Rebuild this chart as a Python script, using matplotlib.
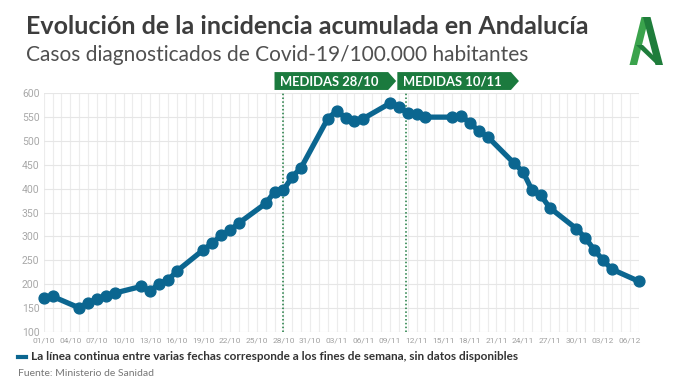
import matplotlib
matplotlib.use("Agg")
import matplotlib.pyplot as plt
import matplotlib.patches as mpatches
import matplotlib.transforms as mtransforms
import numpy as np
import pandas as pd

# data (weekdays only, weekends joined by the line)
dates = ["2020-10-01", "2020-10-02", "2020-10-05", "2020-10-06", "2020-10-07", "2020-10-08",
         "2020-10-09", "2020-10-12", "2020-10-13", "2020-10-14", "2020-10-15", "2020-10-16",
         "2020-10-19", "2020-10-20", "2020-10-21", "2020-10-22", "2020-10-23", "2020-10-26",
         "2020-10-27", "2020-10-28", "2020-10-29", "2020-10-30", "2020-11-02", "2020-11-03",
         "2020-11-04", "2020-11-05", "2020-11-06", "2020-11-09", "2020-11-10", "2020-11-11",
         "2020-11-12", "2020-11-13", "2020-11-16", "2020-11-17", "2020-11-18", "2020-11-19",
         "2020-11-20", "2020-11-23", "2020-11-24", "2020-11-25", "2020-11-26", "2020-11-27",
         "2020-11-30", "2020-12-01", "2020-12-02", "2020-12-03", "2020-12-04", "2020-12-07"]
incidencia = [171, 174, 150, 161, 168, 175, 181, 195, 185, 201, 208, 227,
              272, 286, 302, 313, 328, 369, 393, 397, 425, 444,
              547, 563, 549, 542, 547, 579, 572, 558, 556, 550,
              550, 553, 538, 521, 509, 453, 435, 397, 386, 360,
              316, 297, 272, 250, 231, 206]
medidas_labels = ["MEDIDAS 28/10", "MEDIDAS 10/11"]
medidas_lines = ["2020-10-28 00:00", "2020-11-10 20:00"]
y_ticks = list(range(100, 650, 50))

title = "Evolución de la incidencia acumulada en Andalucía"
subtitle = "Casos diagnosticados de Covid-19/100.000 habitantes"
note = "La línea continua entre varias fechas corresponde a los fines de semana, sin datos disponibles"
source = "Fuente: Ministerio de Sanidad"

BLUE = "#0b6690"
GREEN = "#1b7a3e"

start = pd.Timestamp("2020-10-01")
x = (pd.to_datetime(dates) - start) / pd.Timedelta(days=1)
x = np.asarray(x, dtype=float)
n_days = int(x.max())

W, H = 680, 382
fig = plt.figure(figsize=(W / 100, H / 100), dpi=100)
plt.rcParams["font.family"] = ["Lato", "DejaVu Sans"]


def fx(px):
    return px / W


def fy(py):
    return 1 - py / H


ax = fig.add_axes([fx(43.7), fy(331.7), fx(638.5) - fx(43.7), fy(93.3) - fy(331.7)])
ax.set_xlim(0, n_days)
ax.set_ylim(100, 600)

for d in range(n_days + 1):
    ax.axvline(d, color="#ececec", lw=0.8, zorder=0)
for v in y_ticks:
    ax.axhline(v, color="#e6e6e6", lw=0.8, zorder=0)

ax.plot(x, incidencia, color=BLUE, lw=3.8, marker="o", ms=7.8,
        solid_joinstyle="round", zorder=3, clip_on=False)

for s in ax.spines.values():
    s.set_visible(False)
ax.tick_params(length=0)
ax.set_yticks(y_ticks)
ax.set_yticklabels([str(v) for v in y_ticks], fontsize=7.5, color="#a8a8a8", family="Roboto")
tick_days = list(range(0, n_days + 1, 3))
ax.set_xticks(tick_days)
ax.set_xticklabels([(start + pd.Timedelta(days=d)).strftime("%d/%m") for d in tick_days],
                   fontsize=6, color="#a0a0a0", family="Roboto")
ax.tick_params(axis="y", pad=3)
ax.tick_params(axis="x", pad=4.5)

# measure lines and tags
trans = mtransforms.blended_transform_factory(ax.transData, ax.transAxes)
for label, when in zip(medidas_labels, medidas_lines):
    d = (pd.Timestamp(when) - start) / pd.Timedelta(days=1)
    ax.axvline(d, color=GREEN, lw=1.1, ls=(0, (1, 1.5)), zorder=2)
    left = d - 1.0
    right = d + 11.8
    tip = right + 0.9
    y0, y1 = 1.014, 1.089
    poly = mpatches.Polygon([(left, y0), (right, y0), (tip, (y0 + y1) / 2), (right, y1), (left, y1)],
                            closed=True, transform=trans, facecolor=GREEN, edgecolor="none",
                            clip_on=False, zorder=4)
    ax.add_patch(poly)
    ax.text(left + 0.6, (y0 + y1) / 2 - 0.002, label, transform=trans, color="white",
            fontsize=9.4, fontweight="bold", va="center", ha="left", zorder=5)

# titles
fig.text(fx(26), fy(27), title, fontsize=18, fontweight="bold", color="#3d3d3d", va="center")
fig.text(fx(26), fy(55), subtitle, fontsize=15, color="#505050", va="center")

# logo
light = [(629.5, 65), (637, 65), (649, 17), (641.5, 17)]
dark = [(643, 17), (650.5, 17), (663, 65), (655.5, 65)]
bar = [(636, 45), (643, 45), (660, 62), (657, 65)]
for pts, col in [(light, "#3aa34c"), (dark, "#1f7d3b"), (bar, "#1f7d3b")]:
    fig.patches.append(mpatches.Polygon([(fx(a), fy(b)) for a, b in pts], closed=True,
                                        transform=fig.transFigure, facecolor=col, edgecolor="none"))

# footer
fig.add_artist(plt.Line2D([fx(18), fx(26)], [fy(357), fy(357)], color=BLUE, lw=3))
fig.text(fx(31), fy(357), note, fontsize=8.5, fontweight="bold", color="#333333", va="center")
fig.text(fx(18), fy(373), source, fontsize=7.5, color="#777777", va="center")

fig.savefig("out.png", dpi=100)
